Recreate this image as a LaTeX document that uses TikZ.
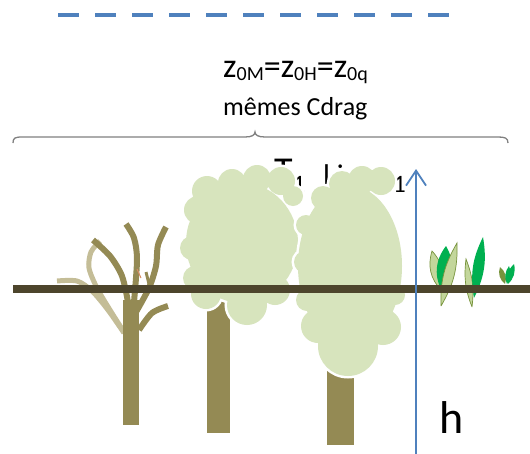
\documentclass[tikz,border=0pt]{standalone}
\usepackage{fontspec}
\setmainfont{Carlito}
\usetikzlibrary{arrows.meta}

\definecolor{axisblue}{HTML}{4F81BD}
\definecolor{soil}{RGB}{77,69,44}
\definecolor{bark}{HTML}{948A54}
\definecolor{paletwig}{HTML}{C4BD97}
\definecolor{foliage}{HTML}{D7E4BD}
\definecolor{grassgreen}{HTML}{00B050}
\definecolor{grasspale}{HTML}{C3D69B}
\definecolor{grassolive}{HTML}{77933C}
\definecolor{bracegray}{RGB}{128,128,128}
\definecolor{twigred}{RGB}{215,140,100}

% lowered, smaller subscripts used in the labels
\newcommand{\zsub}[1]{\raisebox{-3pt}{\fontsize{20}{20}\selectfont #1}}
\newcommand{\tsub}[1]{\raisebox{-9.5pt}{\fontsize{25}{25}\selectfont #1}}

% crown outlines as unions of round lobes
\newcommand{\crownMid}{(242,243) ellipse[x radius=56pt,y radius=60pt]
  (207,191) circle[radius=15pt] (232,183) circle[radius=14pt]
  (257,179) circle[radius=14pt] (281,181) circle[radius=14pt]
  (293,196) circle[radius=10pt] (198,210) circle[radius=14pt]
  (192,248) circle[radius=12pt] (195,278) circle[radius=12pt]
  (206,294) circle[radius=15pt] (247,305) circle[radius=20pt]
  (275,290) circle[radius=15pt]}
\newcommand{\crownFront}{(350,266) ellipse[x radius=52pt,y radius=80pt]
  (323,198) circle[radius=12pt] (342,184) circle[radius=13pt]
  (362,180) circle[radius=14pt] (381,181) circle[radius=14pt]
  (306,225) circle[radius=10pt] (305,262) circle[radius=11pt]
  (307,300) circle[radius=11pt]
  (318,326) circle[radius=17pt] (348,346) circle[radius=30pt]
  (383,327) circle[radius=18pt] (395,295) circle[radius=10pt]}

\tikzset{
  label/.style={inner sep=0pt, anchor=base west, text=black},
  branch/.style={draw=bark, line width=6pt, line cap=butt},
  palebranch/.style={draw=paletwig, line width=5pt, line cap=butt},
  crownedge/.style={draw=white, line width=5pt},
  crownfill/.style={fill=foliage},
  paleleaf/.style={fill=grasspale, draw=grassolive, line width=0.7pt},
  greenleaf/.style={fill=grassgreen},
}

\begin{document}
\begin{tikzpicture}[x=1pt,y=-1pt]
\useasboundingbox (0,0) rectangle (530,453);

% roughness layer height (dashed)
\coordinate (topL) at (58,14.5);
\coordinate (topR) at (449,14.5);
\draw[axisblue, line width=4pt, dash pattern=on 21pt off 16pt] (topL) -- (topR);

% labels above the canopy
\node[label, font=\fontsize{34}{34}\selectfont] (zeq) at (223,77)
  {z\zsub{0M}=z\zsub{0H}=z\zsub{0q}};
\node[label, font=\fontsize{26}{26}\selectfont] (cdrag) at (223,115)
  {mêmes Cdrag};

% curly brace spanning the canopy
\draw[bracegray, line width=1.3pt]
  (13,143) .. controls (13,138) and (15,137) .. (22,137) -- (245,137)
  .. controls (252,137) and (255,135) .. (255,132)
  .. controls (255,135) and (258,137) .. (265,137) -- (498,137)
  .. controls (505,137) and (508,138) .. (508,143);

% text partly hidden behind the crowns
\node[label, font=\fontsize{38}{38}\selectfont] (tleft) at (274,183) {T\tsub{1}};
\node[label, font=\fontsize{30}{30}\selectfont] (tmid) at (323,185) {l i};
\node[label] (tright) at (393,183) {\tsub{1}};

% bare tree on the left
\draw[palebranch] plot[smooth] coordinates {(57,281) (77,281) (92,291) (108,310) (124,333)};
\draw[palebranch] plot[smooth] coordinates {(100,241) (91,252) (89,268) (97,288) (110,310) (124,332)};
\draw[bark, line width=16pt] (131,300) -- (131,425);
\draw[branch] plot[smooth] coordinates {(93,240) (110,256) (122,276) (128,302)};
\draw[branch] plot[smooth] coordinates {(126,224) (134,238) (137,260) (134,302)};
\draw[branch] plot[smooth] coordinates {(166,227) (158,245) (156,266) (149,288) (136,312)};
\draw[bark, line width=3pt] (146,272) -- (150,288);
\draw[branch] plot[smooth] coordinates {(168,306) (152,313) (139,330)};
\draw[twigred, line width=1pt] (137,269) -- (141,278);

% middle tree
\fill[bark] (207,300) rectangle (230,433);
\draw[crownedge] \crownMid;
\fill[crownfill] \crownMid;

% front tree
\fill[bark] (327,350) rectangle (354,445);
\draw[crownedge] \crownFront;
\fill[crownfill] \crownFront;

% grass tufts
\coordinate (g1a) at (441,290); \coordinate (g1b) at (432,251);
\coordinate (g2a) at (443,293); \coordinate (g2b) at (446,246);
\coordinate (g3a) at (441,306); \coordinate (g3b) at (457,243);
\coordinate (g4a) at (472,307); \coordinate (g4b) at (466,259);
\coordinate (g5a) at (474,298); \coordinate (g5b) at (483,237);
\coordinate (g6a) at (505,284); \coordinate (g6b) at (500,267);
\coordinate (g7a) at (507,284); \coordinate (g7b) at (509,266);
\coordinate (g8a) at (508,284); \coordinate (g8b) at (514,264);
\path[paleleaf] (g1a) to[bend left=30] (g1b) to[bend left=30] (g1a);
\path[greenleaf] (g2a) to[bend left=34] (g2b) to[bend left=34] (g2a);
\path[paleleaf] (g3a) to[bend left=16] (g3b) to[bend left=16] (g3a);
\path[paleleaf] (g4a) to[bend left=14] (g4b) to[bend left=14] (g4a);
\path[greenleaf] (g5a) to[bend left=18] (g5b) to[bend left=18] (g5a);
\path[fill=grassolive] (g6a) to[bend left=35] (g6b) to[bend left=35] (g6a);
\path[greenleaf] (g7a) to[bend left=30] (g7b) to[bend left=30] (g7a);
\path[greenleaf] (g8a) to[bend left=30] (g8b) to[bend left=30] (g8a);

% ground line
\coordinate (groundL) at (13,289);
\coordinate (groundR) at (530,289);
\draw[soil, line width=8pt] (groundL) -- (groundR);

% height axis
\coordinate (axisB) at (416,455);
\coordinate (axisT) at (416,169);
\draw[axisblue, line width=1.8pt, -{Straight Barb[length=15pt,width=20pt,line width=1.8pt]}] (axisB) -- (axisT);
\node[label, font=\fontsize{46}{46}\selectfont] (hlab) at (439,433) {h};
\end{tikzpicture}
\end{document}
